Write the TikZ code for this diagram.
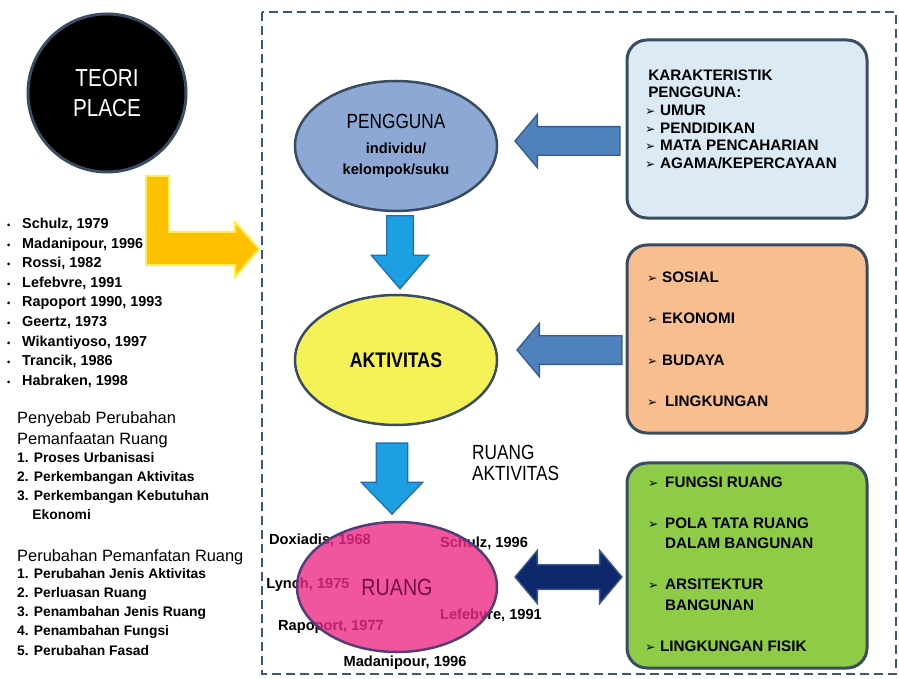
\documentclass[tikz,border=0pt]{standalone}
\usepackage{fontspec}
\setmainfont{Liberation Sans}
\newfontfamily\arrowfont{DejaVu Sans}
\newfontfamily\narrowfont[FakeStretch=0.84]{Liberation Sans}
\usetikzlibrary{shapes.geometric,shapes.arrows}

\definecolor{framecol}{RGB}{62,86,120}
\definecolor{edgecol}{RGB}{58,76,98}
\definecolor{userblue}{RGB}{141,168,212}
\definecolor{actyellow}{RGB}{245,242,88}
\definecolor{spacepink}{RGB}{238,42,134}
\definecolor{spaceedge}{RGB}{84,62,120}
\definecolor{spacetext}{RGB}{115,16,66}
\definecolor{charblue}{RGB}{220,234,246}
\definecolor{factorange}{RGB}{249,190,144}
\definecolor{elemgreen}{RGB}{142,203,70}
\definecolor{leftblue}{RGB}{79,129,189}
\definecolor{leftedge}{RGB}{56,93,138}
\definecolor{downblue}{RGB}{28,160,226}
\definecolor{downedge}{RGB}{40,110,175}
\definecolor{pairnavy}{RGB}{15,40,108}
\definecolor{pairedge}{RGB}{60,90,140}
\definecolor{gold}{RGB}{255,192,0}
\definecolor{glow}{RGB}{255,236,80}

\newcommand{\bul}{\makebox[12.8pt][l]{\arrowfont\fontsize{10.5}{10.5}\selectfont ➢}}
\newcommand{\dotitem}{{\fontsize{8}{8}\selectfont\textbullet}\hspace{10pt}}

\begin{document}
\begin{tikzpicture}[x=0.03cm, y=-0.03cm,
  oval/.style={ellipse, draw=edgecol, line width=0.075cm, minimum width=6.06cm, minimum height=3.9cm, inner sep=0pt, align=center},
  card/.style={rounded corners=0.6cm, draw=edgecol, line width=0.09cm, minimum width=7.2cm},
  cardtext/.style={anchor=north west, inner sep=0pt, align=left},
  refs/.style={inner sep=0pt, font=\bfseries\fontsize{12.5}{15}\selectfont},
  leftarrow/.style={single arrow, shape border rotate=180, fill=leftblue, draw=leftedge, line width=0.04cm, inner sep=0.41cm,
    minimum height=3.15cm, single arrow head extend=0.37cm, single arrow tip angle=100, single arrow head indent=0pt},
  downarrow/.style={single arrow, shape border rotate=270, fill=downblue, draw=downedge, line width=0.04cm, single arrow head indent=0pt},
]
  \useasboundingbox (0,0) rectangle (899,679);
  \draw[framecol, line width=0.075cm, dash pattern=on 0.27cm off 0.15cm] (262,12) rectangle (896,674);

  \node[circle, fill=black, draw=edgecol, line width=0.09cm, minimum size=4.74cm, text=white, align=center, font=\narrowfont\fontsize{21}{25}\selectfont] (teori) at (107,93) {TEORI\\PLACE};

  \node[cardtext, font=\bfseries\fontsize{12.3}{16.7}\selectfont] (rujukan) at (7,218) {\dotitem Schulz, 1979\\\dotitem Madanipour, 1996\\\dotitem Rossi, 1982\\\dotitem Lefebvre, 1991\\\dotitem Rapoport 1990, 1993\\\dotitem Geertz, 1973\\\dotitem Wikantiyoso, 1997\\\dotitem Trancik, 1986\\\dotitem Habraken, 1998};
  \fill[gold, draw=glow, line width=0.06cm] (146,176) -- (169,176) -- (169,232) -- (235,232) -- (235,222) -- (259,249) -- (235,277) -- (235,265) -- (146,265) -- cycle;

  \node[cardtext, font=\fontsize{14}{17.9}\selectfont] (sebab) at (17,411) {Penyebab Perubahan\\Pemanfaatan Ruang};
  \node[cardtext, font=\bfseries\fontsize{11.8}{16.2}\selectfont] (sebablist) at (17,452) {1. Proses Urbanisasi\\2. Perkembangan Aktivitas\\3. Perkembangan Kebutuhan\\\hspace*{13pt}Ekonomi};
  \node[cardtext, font=\fontsize{14}{17.9}\selectfont] (ubah) at (17,549) {Perubahan Pemanfatan Ruang};
  \node[cardtext, font=\bfseries\fontsize{11.8}{16.4}\selectfont] (ubahlist) at (17,568) {1. Perubahan Jenis Aktivitas\\2. Perluasan Ruang\\3. Penambahan Jenis Ruang\\4. Penambahan Fungsi\\5. Perubahan Fasad};

  \node[oval, fill=userblue, font=\bfseries\fontsize{12.5}{18}\selectfont] (pengguna) at (396,146) {{\mdseries\narrowfont\fontsize{17.5}{18}\selectfont PENGGUNA}\\[3pt]individu/\\kelompok/suku};
  \node[oval, fill=actyellow, font=\bfseries\narrowfont\fontsize{18}{18}\selectfont] (aktivitas) at (396,360) {AKTIVITAS};

  \node[refs] (doxiadis) at (320,540) {Doxiadis, 1968};
  \node[refs] (schulz) at (484,543) {Schulz, 1996};
  \node[refs] (lynch) at (308,585) {Lynch, 1975};
  \node[refs] (lefebvre) at (491,615) {Lefebvre, 1991};
  \node[refs] (rapoport) at (331,627) {Rapoport, 1977};
  \node[refs] (madanipour) at (405,663) {Madanipour, 1996};
  \node[oval, fill=spacepink, draw=spaceedge, fill opacity=0.8, minimum width=6cm] (ruang) at (397,587) {};
  \node[text=spacetext, inner sep=0pt, font=\narrowfont\fontsize{20}{22}\selectfont] (ruanglabel) at (ruang.center) {RUANG};

  \node[cardtext, font=\narrowfont\fontsize{17.5}{18}\selectfont] (ruangakt) at (472,445) {RUANG\\AKTIVITAS};

  \node[card, fill=charblue, minimum height=5.34cm] (karakter) at (747,129) {};
  \node[card, fill=factorange, minimum height=5.64cm] (faktor) at (747,339) {};
  \node[card, fill=elemgreen, minimum height=6.15cm] (elemen) at (747,565.5) {};

  \node[cardtext, font=\bfseries\fontsize{13}{15}\selectfont] (karaktertext) at (645,69.5) {\hspace*{2.6pt}KARAKTERISTIK\\\hspace*{2.6pt}PENGGUNA:\\\bul UMUR\\\bul PENDIDIKAN\\\bul MATA PENCAHARIAN\\\bul AGAMA/KEPERCAYAAN};
  \node[cardtext, font=\bfseries\fontsize{13}{35.3}\selectfont] (faktortext) at (647,271.5) {\bul SOSIAL\\\bul EKONOMI\\\bul BUDAYA\\\bul\hspace{2.5pt}LINGKUNGAN};
  \node[cardtext, font=\bfseries\fontsize{13}{17.5}\selectfont] (elementext) at (648,476.5) {\bul\hspace{1.7pt}FUNGSI RUANG\\[17.5pt]\bul\hspace{1.7pt}POLA TATA RUANG\\\hspace*{14.5pt}DALAM BANGUNAN\\[17.5pt]\bul\hspace{1.7pt}ARSITEKTUR\\\hspace*{14.5pt}BANGUNAN\\[17.5pt]\hspace*{-2.6pt}\bul LINGKUNGAN FISIK};

  \node[leftarrow] (fromkarakter) at (573.5,141) {};
  \node[leftarrow] (fromfaktor) at (575.5,350) {};
  \node[downarrow, inner sep=0.38cm, minimum height=2.19cm, single arrow head extend=0.46cm, single arrow tip angle=81] (touser) at (400,244.5) {};
  \node[downarrow, inner sep=0.45cm, minimum height=2.13cm, single arrow head extend=0.45cm, single arrow tip angle=88] (toruang) at (392,470.5) {};
  \node[double arrow, fill=pairnavy, draw=pairedge, line width=0.04cm, inner sep=0.35cm, minimum height=3.21cm,
    double arrow head extend=0.43cm, double arrow tip angle=100, double arrow head indent=0pt] (ruangelemen) at (568.5,577) {};
\end{tikzpicture}
\end{document}
